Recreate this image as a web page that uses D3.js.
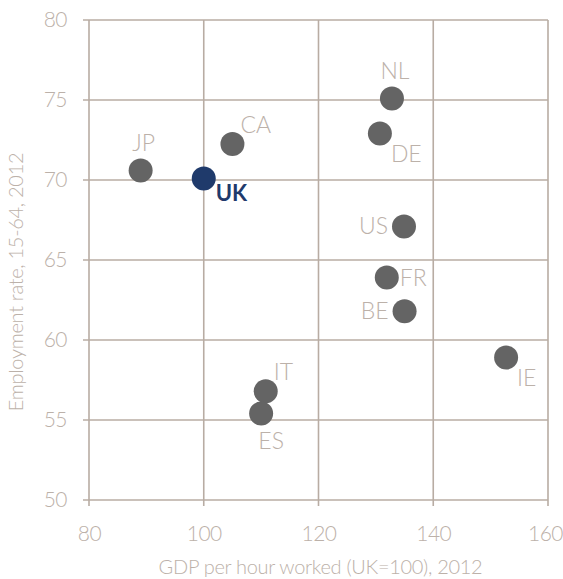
<!DOCTYPE html>
<html>
<head>
<meta charset="utf-8">
<script src="https://cdn.jsdelivr.net/npm/d3@7"></script>
<style>
  body { margin: 0; background: #fff; }
  text { font-family: "Lato", "Open Sans", sans-serif; font-weight: 300; }
</style>
</head>
<body>
<div id="chart-area"></div>
<script>
const WIDTH = 563;
const HEIGHT = 579;

// data
const countries = ["JP", "UK", "CA", "NL", "DE", "US", "FR", "BE", "IE", "IT", "ES"];
const gdpPerHour = [89, 100, 105, 132.8, 130.7, 134.9, 131.9, 135, 152.7, 110.8, 110];
const employment = [70.6, 70.1, 72.25, 75.1, 72.9, 67.1, 63.9, 61.8, 58.9, 56.8, 55.4];
// where each label sits relative to its dot
const labelPos = ["above", "ukLabel", "aboveRight", "above", "belowRight", "left", "right", "left", "belowRight", "aboveRight", "below"];
const xTicks = [80, 100, 120, 140, 160];
const yTicks = [50, 55, 60, 65, 70, 75, 80];

const margin = { left: 89, right: 15, top: 20, bottom: 79 };
const innerW = WIDTH - margin.left - margin.right;
const innerH = HEIGHT - margin.top - margin.bottom;

const GRID = "#b8aca3";
const TEXT = "#bcb1a9";
const DOT = "#646464";
const NAVY = "#1f3a6b";

const svg = d3.select("#chart-area").append("svg")
    .attr("width", WIDTH).attr("height", HEIGHT);

const group = svg.append("g").attr("transform", `translate(${margin.left},${margin.top})`);

const x = d3.scaleLinear().domain([80, 160]).range([0, innerW]);
const y = d3.scaleLinear().domain([50, 80]).range([innerH, 0]);

// grid
group.append("g").selectAll("line").data(xTicks).join("line")
    .attr("x1", d => x(d)).attr("x2", d => x(d))
    .attr("y1", 0).attr("y2", innerH + 6)
    .attr("stroke", GRID).attr("stroke-width", 1.6);

group.append("g").selectAll("line").data(yTicks).join("line")
    .attr("x1", -6).attr("x2", innerW)
    .attr("y1", d => y(d)).attr("y2", d => y(d))
    .attr("stroke", GRID).attr("stroke-width", 1.6);

// axes (labels only, grid drawn above)
const xAxis = group.append("g").attr("transform", `translate(0,${innerH})`)
    .call(d3.axisBottom(x).tickValues(xTicks).tickSize(0).tickPadding(26));
const yAxis = group.append("g")
    .call(d3.axisLeft(y).tickValues(yTicks).tickSize(0).tickPadding(22));
[xAxis, yAxis].forEach(a => {
    a.select(".domain").remove();
    a.selectAll("text").attr("fill", TEXT).attr("font-size", "21px")
        .attr("font-family", null).style("letter-spacing", "-0.5px");
});
// keep the last label inside the page
xAxis.selectAll("text").filter(d => d === 160).attr("dx", -3);

group.append("text")
    .attr("x", innerW / 2 + 2).attr("y", innerH + 74)
    .attr("text-anchor", "middle").attr("font-size", "20px").attr("fill", TEXT)
    .style("letter-spacing", "-0.3px")
    .text("GDP per hour worked (UK=100), 2012");

group.append("text")
    .attr("transform", `translate(${-66},${innerH / 2 + 22}) rotate(-90)`)
    .attr("text-anchor", "middle").attr("font-size", "20px").attr("fill", TEXT)
    .style("letter-spacing", "-0.3px")
    .text("Employment rate, 15-64, 2012");

const data = countries.map((c, i) => ({ name: c, gdp: gdpPerHour[i], emp: employment[i], pos: labelPos[i] }));

group.selectAll("circle").data(data).join("circle")
    .attr("cx", d => x(d.gdp)).attr("cy", d => y(d.emp)).attr("r", 12)
    .attr("fill", d => d.name === "UK" ? NAVY : DOT);

const offsets = {
    above: [3, -19, "middle"],
    below: [10, 35, "middle"],
    left: [-16, 8, "end"],
    right: [13, 8, "start"],
    aboveRight: [8, -11, "start"],
    belowRight: [11, 28, "start"],
    ukLabel: [12, 23, "start"]
};

group.selectAll(".lbl").data(data).join("text").attr("class", "lbl")
    .attr("x", d => x(d.gdp) + offsets[d.pos][0])
    .attr("y", d => y(d.emp) + offsets[d.pos][1])
    .attr("text-anchor", d => offsets[d.pos][2])
    .attr("font-size", d => d.name === "UK" ? "22px" : "23px")
    .style("font-weight", d => d.name === "UK" ? 700 : 300)
    .attr("fill", d => d.name === "UK" ? NAVY : TEXT)
    .text(d => d.name);
</script>
</body>
</html>
